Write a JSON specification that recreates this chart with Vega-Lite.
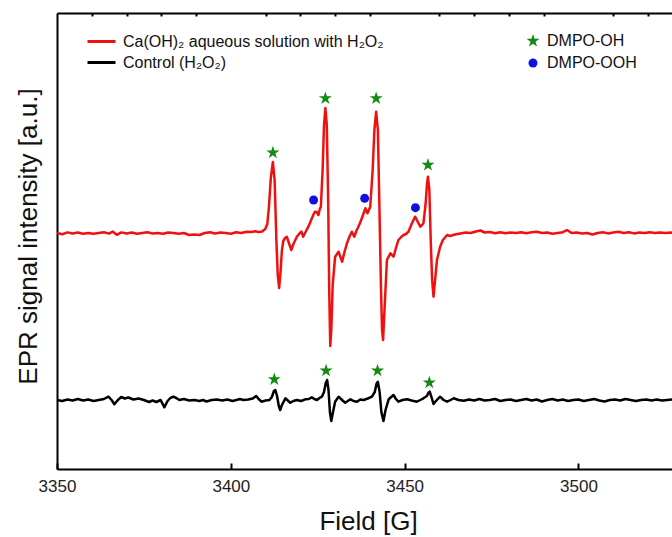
{
"$schema": "https://vega.github.io/schema/vega-lite/v6.json",
"width": 615, "height": 456,
"autosize": {"type": "none"},
"padding": {"left": 57, "top": 13, "right": 0, "bottom": 68},
"config": {"font": "Liberation Sans", "view": {"stroke": null}},
"datasets": {
"sample": [
{"field":3350,"intensity":236},{"field":3351.5,"intensity":234.8},{"field":3353,"intensity":236.6},{"field":3354.5,"intensity":235.5},{"field":3356,"intensity":236.5},{"field":3357.5,"intensity":235.2},{"field":3359,"intensity":236},{"field":3360.5,"intensity":235.3},{"field":3362,"intensity":236},{"field":3363.5,"intensity":236.8},{"field":3365,"intensity":235.4},{"field":3366,"intensity":237.5},{"field":3367.2,"intensity":234.2},{"field":3368.5,"intensity":236.6},{"field":3370,"intensity":235.5},{"field":3371.5,"intensity":236.5},{"field":3373,"intensity":235.3},{"field":3374.5,"intensity":236},{"field":3376,"intensity":236.8},{"field":3377.5,"intensity":235.5},{"field":3379,"intensity":236},{"field":3380.5,"intensity":235.3},{"field":3382,"intensity":236.5},{"field":3383.5,"intensity":236},{"field":3385,"intensity":235.3},{"field":3386.5,"intensity":236},{"field":3388,"intensity":234},{"field":3389.5,"intensity":234.5},{"field":3391,"intensity":234},{"field":3392.5,"intensity":236},{"field":3394,"intensity":236.8},{"field":3395.5,"intensity":235.5},{"field":3397,"intensity":236.5},{"field":3398.5,"intensity":236},{"field":3400,"intensity":235.3},{"field":3401.5,"intensity":236.8},{"field":3403,"intensity":236},{"field":3404.5,"intensity":237.3},{"field":3406,"intensity":237},{"field":3407,"intensity":237.8},{"field":3408,"intensity":237},{"field":3409,"intensity":237.5},{"field":3409.9,"intensity":240},{"field":3410.5,"intensity":245},{"field":3411,"intensity":264},{"field":3411.5,"intensity":291},{"field":3412.1,"intensity":307},{"field":3412.6,"intensity":289},{"field":3413.1,"intensity":229},{"field":3413.5,"intensity":194},{"field":3413.9,"intensity":181},{"field":3414.3,"intensity":197},{"field":3414.7,"intensity":219},{"field":3415.1,"intensity":228},{"field":3415.6,"intensity":231},{"field":3416.1,"intensity":232.3},{"field":3416.7,"intensity":226},{"field":3417.4,"intensity":219},{"field":3418,"intensity":225},{"field":3419,"intensity":232.3},{"field":3419.6,"intensity":235},{"field":3420.3,"intensity":237.3},{"field":3420.8,"intensity":232.3},{"field":3421.5,"intensity":237},{"field":3422.3,"intensity":242.3},{"field":3423,"intensity":248},{"field":3423.7,"intensity":254},{"field":3424.2,"intensity":257.3},{"field":3424.6,"intensity":257.3},{"field":3425.2,"intensity":254},{"field":3425.6,"intensity":260},{"field":3425.9,"intensity":262.3},{"field":3426.4,"intensity":299},{"field":3426.8,"intensity":344},{"field":3427.2,"intensity":361},{"field":3427.6,"intensity":344},{"field":3428,"intensity":269},{"field":3428.3,"intensity":179},{"field":3428.6,"intensity":123},{"field":3428.9,"intensity":139},{"field":3429.3,"intensity":184},{"field":3430,"intensity":212.3},{"field":3431,"intensity":217.3},{"field":3432,"intensity":207.3},{"field":3432.7,"intensity":217},{"field":3433.4,"intensity":225.7},{"field":3434.2,"intensity":233},{"field":3434.8,"intensity":237.3},{"field":3435.5,"intensity":232.3},{"field":3436.1,"intensity":238},{"field":3436.7,"intensity":242.3},{"field":3437.5,"intensity":249},{"field":3438.2,"intensity":255.7},{"field":3438.7,"intensity":260.7},{"field":3439.3,"intensity":255.7},{"field":3439.7,"intensity":259},{"field":3440.1,"intensity":262.3},{"field":3440.8,"intensity":299},{"field":3441.3,"intensity":339},{"field":3441.8,"intensity":357.3},{"field":3442.3,"intensity":339},{"field":3442.7,"intensity":269},{"field":3443.2,"intensity":179},{"field":3443.5,"intensity":139},{"field":3443.8,"intensity":129},{"field":3444.2,"intensity":159},{"field":3444.9,"intensity":209},{"field":3445.9,"intensity":215.7},{"field":3446.8,"intensity":212.3},{"field":3447.5,"intensity":221},{"field":3448.2,"intensity":229},{"field":3449,"intensity":232},{"field":3449.7,"intensity":234},{"field":3450.4,"intensity":235},{"field":3451.1,"intensity":237.3},{"field":3452,"intensity":245},{"field":3453,"intensity":252.3},{"field":3453.8,"intensity":247},{"field":3454.5,"intensity":242.3},{"field":3455,"intensity":244},{"field":3455.4,"intensity":245.7},{"field":3456,"intensity":264},{"field":3456.4,"intensity":284},{"field":3456.7,"intensity":292.3},{"field":3457.1,"intensity":279},{"field":3457.5,"intensity":229},{"field":3457.9,"intensity":189},{"field":3458.3,"intensity":172.3},{"field":3458.7,"intensity":187},{"field":3459.3,"intensity":209},{"field":3460.2,"intensity":222.3},{"field":3461,"intensity":229},{"field":3462.2,"intensity":234},{"field":3463,"intensity":233},{"field":3464.5,"intensity":234.5},{"field":3466,"intensity":235.5},{"field":3467.5,"intensity":236.5},{"field":3469,"intensity":236},{"field":3470.5,"intensity":237.5},{"field":3471.8,"intensity":238.5},{"field":3473,"intensity":236.5},{"field":3474.5,"intensity":237},{"field":3476,"intensity":235.8},{"field":3477.5,"intensity":236.8},{"field":3479,"intensity":235.8},{"field":3480.5,"intensity":236.5},{"field":3482,"intensity":236},{"field":3483.5,"intensity":236.8},{"field":3485,"intensity":235.8},{"field":3486.5,"intensity":236.8},{"field":3488,"intensity":237.2},{"field":3489.5,"intensity":236},{"field":3491,"intensity":236.5},{"field":3492.5,"intensity":235.3},{"field":3494,"intensity":236},{"field":3495.5,"intensity":236.8},{"field":3496.7,"intensity":239},{"field":3498,"intensity":236},{"field":3499.5,"intensity":236.5},{"field":3501,"intensity":235.5},{"field":3502.5,"intensity":236},{"field":3504,"intensity":234.5},{"field":3505.5,"intensity":236},{"field":3507,"intensity":236.8},{"field":3508.5,"intensity":235.6},{"field":3510,"intensity":236.5},{"field":3511.5,"intensity":237.2},{"field":3513,"intensity":236},{"field":3514.5,"intensity":236.8},{"field":3516,"intensity":235.6},{"field":3517.5,"intensity":236.5},{"field":3519,"intensity":236},{"field":3520.5,"intensity":236.8},{"field":3522,"intensity":236},{"field":3523.5,"intensity":236.5},{"field":3525,"intensity":236},{"field":3526.5,"intensity":236.5},{"field":3528,"intensity":236},{"field":3530,"intensity":236}
],
"control": [
{"field":3350,"intensity":69},{"field":3351.5,"intensity":68},{"field":3353,"intensity":69.5},{"field":3354.5,"intensity":68.5},{"field":3356,"intensity":70},{"field":3357.5,"intensity":68.5},{"field":3359,"intensity":69.5},{"field":3360.5,"intensity":68},{"field":3362,"intensity":69},{"field":3363.5,"intensity":70},{"field":3364.8,"intensity":72.3},{"field":3365.7,"intensity":69},{"field":3366.5,"intensity":64.7},{"field":3367.5,"intensity":69},{"field":3368.5,"intensity":72},{"field":3369.5,"intensity":70.5},{"field":3370.5,"intensity":71.5},{"field":3372,"intensity":69.5},{"field":3373.5,"intensity":70.5},{"field":3375,"intensity":69},{"field":3376.5,"intensity":67},{"field":3377.5,"intensity":68.5},{"field":3378.6,"intensity":67},{"field":3379.8,"intensity":69},{"field":3380.9,"intensity":61.7},{"field":3381.8,"intensity":68},{"field":3382.6,"intensity":71},{"field":3383.5,"intensity":72.3},{"field":3384.3,"intensity":71},{"field":3385.2,"intensity":69},{"field":3386.5,"intensity":70},{"field":3388,"intensity":68.5},{"field":3389.5,"intensity":69},{"field":3391,"intensity":68},{"field":3392,"intensity":69},{"field":3393,"intensity":67.5},{"field":3394.5,"intensity":69},{"field":3396,"intensity":69.5},{"field":3397.5,"intensity":68.5},{"field":3399,"intensity":69.5},{"field":3400.5,"intensity":68},{"field":3401.6,"intensity":69},{"field":3402.6,"intensity":70},{"field":3403.6,"intensity":69},{"field":3405,"intensity":69.5},{"field":3406.3,"intensity":70.5},{"field":3407.3,"intensity":73},{"field":3408,"intensity":70},{"field":3408.8,"intensity":67.3},{"field":3410,"intensity":68.5},{"field":3411.1,"intensity":69},{"field":3411.8,"intensity":72},{"field":3412.4,"intensity":78},{"field":3412.8,"intensity":79},{"field":3413.3,"intensity":73},{"field":3413.8,"intensity":63},{"field":3414.2,"intensity":59},{"field":3414.7,"intensity":64},{"field":3415.7,"intensity":70.7},{"field":3416.4,"intensity":68.5},{"field":3417.1,"intensity":66.3},{"field":3418,"intensity":68},{"field":3419,"intensity":69},{"field":3420.2,"intensity":68},{"field":3421.4,"intensity":69.7},{"field":3422.4,"intensity":70},{"field":3423.3,"intensity":71.7},{"field":3424,"intensity":70},{"field":3424.8,"intensity":69},{"field":3425.5,"intensity":71},{"field":3426.2,"intensity":72.3},{"field":3426.8,"intensity":77},{"field":3427.3,"intensity":86},{"field":3427.7,"intensity":89},{"field":3428.1,"intensity":79},{"field":3428.5,"intensity":57},{"field":3428.9,"intensity":48},{"field":3429.4,"intensity":57},{"field":3430,"intensity":67.3},{"field":3431,"intensity":72.3},{"field":3432,"intensity":69},{"field":3432.9,"intensity":66.3},{"field":3434.4,"intensity":69.7},{"field":3435.3,"intensity":68},{"field":3436.3,"intensity":67.3},{"field":3437.2,"intensity":69.5},{"field":3438.2,"intensity":69},{"field":3439.4,"intensity":70.5},{"field":3440.6,"intensity":72.3},{"field":3441.4,"intensity":77},{"field":3441.9,"intensity":85},{"field":3442.3,"intensity":87.3},{"field":3442.8,"intensity":77},{"field":3443.3,"intensity":57},{"field":3443.9,"intensity":48},{"field":3444.5,"intensity":59},{"field":3445.4,"intensity":69.7},{"field":3446.8,"intensity":74},{"field":3447.5,"intensity":70},{"field":3448.2,"intensity":67.3},{"field":3449.4,"intensity":69},{"field":3450.7,"intensity":69.7},{"field":3452,"intensity":68.5},{"field":3453.5,"intensity":67.3},{"field":3454.5,"intensity":69},{"field":3455.4,"intensity":70.7},{"field":3456.4,"intensity":73},{"field":3456.8,"intensity":76},{"field":3457.2,"intensity":77.3},{"field":3457.7,"intensity":72},{"field":3458.3,"intensity":65},{"field":3459,"intensity":68},{"field":3460.2,"intensity":72.3},{"field":3461.2,"intensity":69},{"field":3462.2,"intensity":67.3},{"field":3463.2,"intensity":69},{"field":3464.1,"intensity":70.7},{"field":3465.5,"intensity":69},{"field":3467,"intensity":68.3},{"field":3468.5,"intensity":69.5},{"field":3470,"intensity":68.5},{"field":3471.5,"intensity":70},{"field":3473,"intensity":68.5},{"field":3474.5,"intensity":69},{"field":3476,"intensity":70},{"field":3477.5,"intensity":68},{"field":3479,"intensity":69},{"field":3480.5,"intensity":69.5},{"field":3482,"intensity":68},{"field":3483.5,"intensity":69},{"field":3485,"intensity":70},{"field":3486.5,"intensity":68.5},{"field":3488,"intensity":69.5},{"field":3489.5,"intensity":67.5},{"field":3491,"intensity":69},{"field":3492.5,"intensity":70},{"field":3494,"intensity":68.5},{"field":3495.5,"intensity":69.5},{"field":3497,"intensity":68},{"field":3498.5,"intensity":69},{"field":3500,"intensity":69.5},{"field":3501.5,"intensity":68},{"field":3503,"intensity":69},{"field":3504.5,"intensity":70},{"field":3506,"intensity":68.5},{"field":3507.5,"intensity":67.5},{"field":3509,"intensity":69},{"field":3510.5,"intensity":69.5},{"field":3512,"intensity":68.5},{"field":3513.5,"intensity":70},{"field":3515,"intensity":69},{"field":3516.5,"intensity":68},{"field":3518,"intensity":69},{"field":3519.5,"intensity":69.5},{"field":3521,"intensity":68.5},{"field":3522.5,"intensity":69.5},{"field":3524,"intensity":68.5},{"field":3525.5,"intensity":69},{"field":3527,"intensity":69.5},{"field":3529,"intensity":69}
],
"adducts": [
{"field":3412.1,"intensity":316.3,"species":"DMPO-OH"},{"field":3427.2,"intensity":370.7,"species":"DMPO-OH"},{"field":3441.8,"intensity":370.7,"species":"DMPO-OH"},{"field":3456.7,"intensity":304,"species":"DMPO-OH"},
{"field":3423.8,"intensity":269,"species":"DMPO-OOH"},{"field":3438.5,"intensity":270.7,"species":"DMPO-OOH"},{"field":3453.1,"intensity":261.3,"species":"DMPO-OOH"},
{"field":3412.5,"intensity":89.7,"species":"DMPO-OH"},{"field":3427.4,"intensity":98.3,"species":"DMPO-OH"},{"field":3442.2,"intensity":98.3,"species":"DMPO-OH"},{"field":3457.1,"intensity":86.3,"species":"DMPO-OH"}
]
},
"layer": [
{
"layer": [
{
"data": {"name": "sample"},
"mark": {"type": "line", "clip": true, "strokeWidth": 2.5, "strokeJoin": "round"},
"encoding": {
"x": {"field": "field", "type": "quantitative", "scale": {"domain": [3350, 3526.9], "nice": false, "zero": false},
"axis": {"title": "Field [G]", "titleFontSize": 26, "titleFontWeight": "normal", "titleColor": "#111", "titleX": 311, "titleY": 60, "titleBaseline": "alphabetic",
"values": [3350, 3400, 3450, 3500], "format": "d",
"labelFontSize": 17, "labelColor": "#222", "labelPadding": 15, "labelFlush": false, "labelOverlap": false,
"tickSize": -6, "tickWidth": 2, "tickColor": "#000", "domainColor": "#000", "domainWidth": 2, "grid": false}},
"y": {"field": "intensity", "type": "quantitative", "scale": {"domain": [0, 456], "nice": false, "zero": false},
"axis": {"title": "EPR signal intensity [a.u.]", "titleFontSize": 26, "titleFontWeight": "normal", "titleColor": "#111", "titleX": -21, "titleY": 223, "titleBaseline": "alphabetic", "titleAngle": -90,
"ticks": false, "labels": false, "grid": false, "domainColor": "#000", "domainWidth": 2}},
"color": {"datum": "Ca(OH)₂ aqueous solution with H₂O₂", "type": "nominal",
"scale": {"domain": ["Ca(OH)₂ aqueous solution with H₂O₂", "Control (H₂O₂)"], "range": ["#f01010", "#000000"]},
"legend": {"title": null, "orient": "none", "legendX": 36, "legendY": 20, "padding": 0, "symbolType": "M-2,0L2,0", "symbolSize": 196, "symbolStrokeWidth": 3, "labelFontSize": 16, "labelColor": "#111", "labelOffset": 13, "rowPadding": 4, "labelLimit": 400}}
}
},
{
"data": {"name": "control"},
"mark": {"type": "line", "clip": true, "strokeWidth": 2.5, "strokeJoin": "round"},
"encoding": {
"x": {"field": "field", "type": "quantitative", "scale": {"domain": [3350, 3526.9], "nice": false, "zero": false},
"axis": {"title": null, "labels": false, "domain": false, "grid": false,
"values": [3360, 3370, 3380, 3390, 3410, 3420, 3430, 3440, 3460, 3470, 3480, 3490, 3510, 3520],
"tickSize": -3, "tickWidth": 2, "tickColor": "#000"}},
"y": {"field": "intensity", "type": "quantitative"},
"color": {"datum": "Control (H₂O₂)", "type": "nominal"}
}
}
],
"resolve": {"axis": {"x": "independent"}}
},
{
"data": {"name": "adducts"},
"mark": {"type": "point", "filled": true, "opacity": 1, "strokeWidth": 0},
"encoding": {
"x": {"field": "field", "type": "quantitative", "scale": {"domain": [3350, 3526.9], "nice": false, "zero": false},
"axis": {"orient": "top", "labels": false, "ticks": false, "title": null, "grid": false, "domainColor": "#000", "domainWidth": 2}},
"y": {"field": "intensity", "type": "quantitative"},
"color": {"field": "species", "type": "nominal", "scale": {"domain": ["DMPO-OH", "DMPO-OOH"], "range": ["#138a13", "#1010e0"]},
"legend": {"title": null, "orient": "none", "legendX": 468, "legendY": 20, "padding": 0, "labelFontSize": 16, "labelColor": "#111", "labelOffset": 6, "rowPadding": 6, "symbolStrokeWidth": 0}},
"shape": {"field": "species", "type": "nominal", "scale": {"domain": ["DMPO-OH", "DMPO-OOH"], "range": ["M0,-1L0.225,-0.309L0.951,-0.309L0.363,0.118L0.588,0.809L0,0.382L-0.588,0.809L-0.363,0.118L-0.951,-0.309L-0.225,-0.309Z", "circle"]},
"legend": {"title": null, "orient": "none", "legendX": 468, "legendY": 20, "padding": 0, "labelFontSize": 16, "labelColor": "#111", "labelOffset": 6, "rowPadding": 6, "symbolStrokeWidth": 0}},
"size": {"field": "species", "type": "nominal", "scale": {"domain": ["DMPO-OH", "DMPO-OOH"], "range": [190, 80]},
"legend": {"title": null, "orient": "none", "legendX": 468, "legendY": 20, "padding": 0, "labelFontSize": 16, "labelColor": "#111", "labelOffset": 6, "rowPadding": 6, "symbolStrokeWidth": 0}}
}
}
],
"resolve": {"scale": {"color": "independent", "shape": "independent", "size": "independent"}, "axis": {"x": "independent"}}
}
